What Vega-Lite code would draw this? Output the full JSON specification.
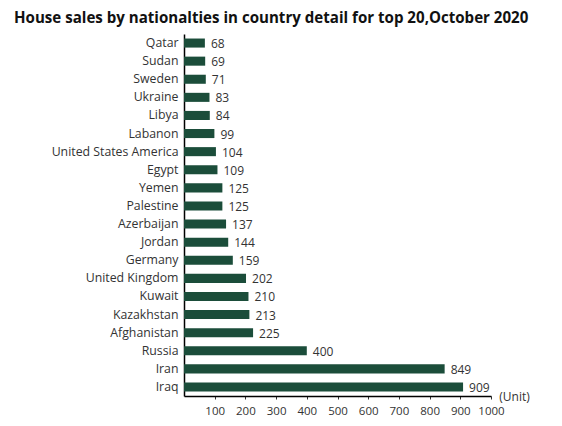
{
  "$schema": "https://vega.github.io/schema/vega-lite/v6.json",
  "autosize": "none",
  "width": 307,
  "height": 362,
  "padding": {"left": 184, "top": 34, "right": 71, "bottom": 30},
  "background": "#ffffff",
  "title": {
    "text": "House sales by nationalties in country detail for top 20,October 2020",
    "anchor": "start",
    "frame": "group",
    "dx": -170,
    "offset": 8,
    "font": "Open Sans",
    "fontSize": 15.1,
    "fontWeight": "bold",
    "color": "#111111"
  },
  "data": {
    "values": [
      {"country": "Qatar", "sales": 68},
      {"country": "Sudan", "sales": 69},
      {"country": "Sweden", "sales": 71},
      {"country": "Ukraine", "sales": 83},
      {"country": "Libya", "sales": 84},
      {"country": "Labanon", "sales": 99},
      {"country": "United States America", "sales": 104},
      {"country": "Egypt", "sales": 109},
      {"country": "Yemen", "sales": 125},
      {"country": "Palestine", "sales": 125},
      {"country": "Azerbaijan", "sales": 137},
      {"country": "Jordan", "sales": 144},
      {"country": "Germany", "sales": 159},
      {"country": "United Kingdom", "sales": 202},
      {"country": "Kuwait", "sales": 210},
      {"country": "Kazakhstan", "sales": 213},
      {"country": "Afghanistan", "sales": 225},
      {"country": "Russia", "sales": 400},
      {"country": "Iran", "sales": 849},
      {"country": "Iraq", "sales": 909}
    ]
  },
  "encoding": {
    "y": {
      "field": "country",
      "type": "nominal",
      "sort": null,
      "scale": {"paddingInner": 0.5, "paddingOuter": 0.25},
      "axis": {
        "title": null,
        "ticks": false,
        "domainColor": "#000000",
        "domainWidth": 1.5,
        "labelFont": "Open Sans",
        "labelFontSize": 12.3,
        "labelColor": "#333333",
        "labelPadding": 6
      }
    },
    "x": {
      "field": "sales",
      "type": "quantitative",
      "scale": {"domain": [0, 1000], "nice": false},
      "axis": {
        "title": "(Unit)",
        "titleX": 330,
        "titleY": 0,
        "titleAlign": "center",
        "titleBaseline": "middle",
        "titleFont": "Open Sans",
        "titleFontSize": 12,
        "titleFontWeight": "normal",
        "titleColor": "#333333",
        "values": [100, 200, 300, 400, 500, 600, 700, 800, 900, 1000],
        "format": "d",
        "labelOverlap": false,
        "labelFlush": false,
        "grid": false,
        "tickSize": 3,
        "tickColor": "#333333",
        "domainColor": "#000000",
        "domainWidth": 1.5,
        "labelFont": "Open Sans",
        "labelFontSize": 11.5,
        "labelColor": "#333333",
        "labelPadding": 6
      }
    }
  },
  "layer": [
    {"mark": {"type": "bar", "color": "#1b4d3a"}},
    {
      "mark": {
        "type": "text",
        "align": "left",
        "baseline": "middle",
        "dx": 6,
        "dy": 1,
        "font": "Open Sans",
        "fontSize": 12,
        "color": "#333333"
      },
      "encoding": {"text": {"field": "sales", "type": "quantitative"}}
    }
  ],
  "config": {"view": {"stroke": null}}
}
